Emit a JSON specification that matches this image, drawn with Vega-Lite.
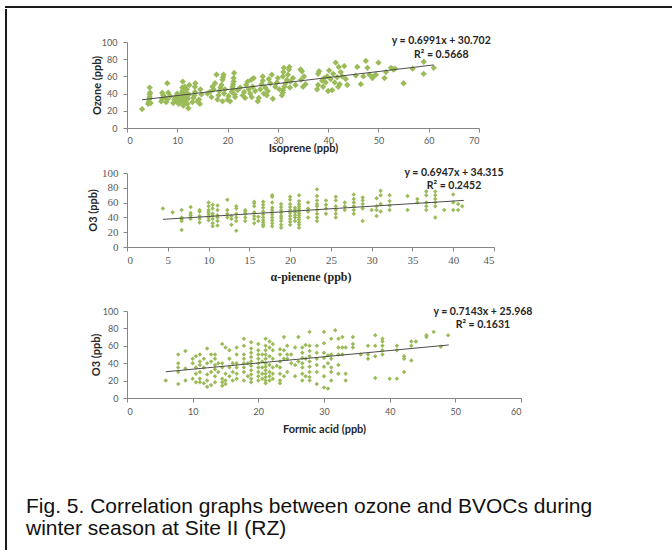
{
"$schema": "https://vega.github.io/schema/vega-lite/v6.json",
"padding": {"left": 5, "top": 6, "right": 0, "bottom": 0},
"background": "white",
"config": {
  "view": {"stroke": null},
  "axis": {"grid": false, "domainColor": "#868686", "tickColor": "#868686", "labelColor": "#595959", "titleColor": "#262626", "tickSize": 4, "labelFont": "Lato", "titleFont": "Lato", "labelFontSize": 9, "titleFontSize": 11, "titleFontWeight": "bold"}
},
"datasets": {
"p1": [
{"x":3.0,"y":22},{"x":4.2,"y":28},{"x":4.3,"y":30},{"x":4.4,"y":33},{"x":4.5,"y":36},{"x":4.5,"y":39},{"x":4.6,"y":41},{"x":4.5,"y":47},{"x":4.7,"y":29},
{"x":6.8,"y":31},{"x":7.0,"y":34},{"x":7.2,"y":38},{"x":7.0,"y":41},{"x":7.5,"y":36},{"x":7.8,"y":30},{"x":8.0,"y":33},{"x":8.2,"y":41},{"x":8.0,"y":52},{"x":8.6,"y":37},
{"x":9.2,"y":29},{"x":9.4,"y":33},{"x":9.6,"y":36},{"x":9.8,"y":31},{"x":10.0,"y":40},{"x":10.2,"y":35},{"x":10.3,"y":28},
{"x":10.5,"y":30},{"x":10.6,"y":32},{"x":10.7,"y":34},{"x":10.8,"y":37},{"x":10.9,"y":40},{"x":11.0,"y":43},{"x":11.0,"y":47},{"x":11.1,"y":54},{"x":11.2,"y":26},{"x":11.3,"y":29},{"x":11.4,"y":31},{"x":11.5,"y":33},{"x":11.6,"y":36},{"x":11.7,"y":38},{"x":11.8,"y":41},{"x":11.9,"y":45},{"x":12.0,"y":28},{"x":12.1,"y":34},{"x":12.2,"y":23},{"x":12.3,"y":39},{"x":12.4,"y":50},{"x":11.5,"y":48},
{"x":13.0,"y":30},{"x":13.2,"y":35},{"x":13.4,"y":38},{"x":13.5,"y":42},{"x":13.5,"y":48},{"x":13.6,"y":52},{"x":14.0,"y":31},{"x":14.3,"y":33},{"x":14.5,"y":28},{"x":14.6,"y":45},{"x":14.8,"y":39},
{"x":16.0,"y":40},{"x":16.5,"y":42},{"x":16.8,"y":36},{"x":17.0,"y":48},{"x":17.2,"y":45},{"x":17.5,"y":52},{"x":17.8,"y":62},{"x":18.0,"y":33},{"x":18.2,"y":38},{"x":18.4,"y":43},{"x":18.6,"y":47},{"x":18.8,"y":50},{"x":19.0,"y":31},{"x":19.0,"y":56},{"x":19.1,"y":59},{"x":19.2,"y":62},{"x":19.3,"y":40},{"x":19.5,"y":45},
{"x":20.0,"y":33},{"x":20.2,"y":37},{"x":20.5,"y":31},{"x":20.8,"y":42},{"x":21.0,"y":45},{"x":21.0,"y":48},{"x":21.1,"y":51},{"x":21.2,"y":54},{"x":21.2,"y":58},{"x":21.3,"y":64},{"x":21.4,"y":39},{"x":21.5,"y":36},{"x":22.0,"y":44},{"x":22.5,"y":47},
{"x":23.0,"y":38},{"x":23.3,"y":42},{"x":23.5,"y":35},{"x":23.7,"y":50},{"x":24.0,"y":54},{"x":24.2,"y":45},{"x":24.5,"y":40},{"x":24.7,"y":56},{"x":24.8,"y":36},{"x":25.0,"y":48},{"x":25.2,"y":58},{"x":25.5,"y":43},
{"x":26.0,"y":31},{"x":26.2,"y":35},{"x":26.5,"y":45},{"x":26.8,"y":51},{"x":27.0,"y":55},{"x":27.0,"y":60},{"x":27.2,"y":40},{"x":27.5,"y":47},{"x":27.8,"y":38},{"x":28.0,"y":43},{"x":28.2,"y":57},{"x":28.5,"y":52},{"x":28.8,"y":62},{"x":29.0,"y":34},
{"x":29.5,"y":48},{"x":29.8,"y":53},{"x":30.0,"y":58},{"x":30.3,"y":45},{"x":30.8,"y":38},{"x":31.0,"y":41},{"x":31.0,"y":44},{"x":31.0,"y":60},{"x":31.1,"y":65},{"x":31.2,"y":70},{"x":31.3,"y":48},{"x":31.5,"y":52},{"x":31.8,"y":56},{"x":32.0,"y":62},{"x":32.2,"y":68},{"x":32.3,"y":71},{"x":32.4,"y":47},{"x":32.5,"y":54},{"x":33.0,"y":58},{"x":33.5,"y":50},{"x":34.5,"y":68},{"x":34.8,"y":66},{"x":34.6,"y":56},{"x":35.0,"y":48},{"x":35.2,"y":60},{"x":35.5,"y":51},
{"x":37.8,"y":45},{"x":38.0,"y":50},{"x":38.2,"y":66},{"x":38.0,"y":63},{"x":38.8,"y":55},{"x":39.0,"y":48},{"x":39.2,"y":58},{"x":39.5,"y":53},{"x":39.8,"y":60},{"x":40.0,"y":43},{"x":40.2,"y":67},{"x":40.5,"y":57},{"x":40.8,"y":44},{"x":41.0,"y":63},{"x":41.3,"y":53},{"x":41.5,"y":76},{"x":41.8,"y":59},{"x":42.0,"y":48},{"x":42.1,"y":71},{"x":42.3,"y":51},{"x":42.5,"y":65},{"x":42.8,"y":60},{"x":43.2,"y":72},{"x":43.5,"y":57},{"x":43.8,"y":50},
{"x":45.5,"y":61},{"x":45.8,"y":71},{"x":46.5,"y":51},{"x":47.0,"y":60},{"x":47.5,"y":78},{"x":47.8,"y":70},{"x":48.2,"y":62},{"x":48.8,"y":58},{"x":49.0,"y":60},{"x":49.5,"y":62},{"x":50.0,"y":76},{"x":51.2,"y":58},{"x":51.5,"y":65},{"x":52.5,"y":70},{"x":53.0,"y":68},{"x":53.3,"y":69},{"x":55.0,"y":52},{"x":56.8,"y":69},{"x":59.0,"y":63},{"x":59.0,"y":77},{"x":61.0,"y":70}
],
"t1": [{"x":3,"y":32.8},{"x":61,"y":73.35}],
"e1": [{"x":62.5,"y":101,"label":"y = 0.6991x + 30.702"},{"x":62.5,"y":85,"label":"R² = 0.5668"}],
"p2": [
{"x":4.4,"y":52},{"x":5.6,"y":47},
{"x":6.7,"y":23},{"x":6.7,"y":35},{"x":6.7,"y":38},{"x":6.7,"y":40},{"x":6.7,"y":50},
{"x":7.8,"y":38},{"x":7.8,"y":40},{"x":7.8,"y":43},{"x":7.8,"y":46},{"x":7.8,"y":54},
{"x":8.9,"y":33},{"x":8.9,"y":38},{"x":8.9,"y":42},{"x":8.9,"y":48},{"x":8.9,"y":50},
{"x":10,"y":36},{"x":10,"y":40},{"x":10,"y":44},{"x":10,"y":47},{"x":10,"y":50},{"x":10,"y":55},{"x":10,"y":60},
{"x":10.5,"y":28},{"x":10.5,"y":32},{"x":10.5,"y":38},{"x":10.5,"y":42},{"x":10.5,"y":45},{"x":10.5,"y":52},{"x":10.5,"y":57},
{"x":11.1,"y":29},{"x":11.1,"y":35},{"x":11.1,"y":40},{"x":11.1,"y":43},{"x":11.1,"y":50},{"x":11.1,"y":56},
{"x":12.3,"y":40},{"x":12.3,"y":45},{"x":12.3,"y":50},{"x":12.3,"y":64},
{"x":12.8,"y":30},{"x":12.8,"y":38},{"x":12.8,"y":42},
{"x":13.4,"y":22},{"x":13.4,"y":35},{"x":13.4,"y":40},{"x":13.4,"y":45},{"x":13.4,"y":52},{"x":13.4,"y":55},
{"x":14.5,"y":35},{"x":14.5,"y":40},{"x":14.5,"y":45},{"x":14.5,"y":48},{"x":14.5,"y":50},
{"x":15.6,"y":32},{"x":15.6,"y":38},{"x":15.6,"y":42},{"x":15.6,"y":47},{"x":15.6,"y":55},{"x":15.6,"y":59},{"x":15.6,"y":61},
{"x":16.1,"y":35},{"x":16.1,"y":41},
{"x":16.7,"y":28},{"x":16.7,"y":30},{"x":16.7,"y":33},{"x":16.7,"y":36},{"x":16.7,"y":40},{"x":16.7,"y":44},{"x":16.7,"y":48},{"x":16.7,"y":53},{"x":16.7,"y":57},{"x":16.7,"y":61},
{"x":17.8,"y":28},{"x":17.8,"y":32},{"x":17.8,"y":36},{"x":17.8,"y":40},{"x":17.8,"y":44},{"x":17.8,"y":47},{"x":17.8,"y":50},{"x":17.8,"y":53},{"x":17.8,"y":60},{"x":17.8,"y":68},{"x":17.8,"y":70},
{"x":18.9,"y":26},{"x":18.9,"y":30},{"x":18.9,"y":35},{"x":18.9,"y":39},{"x":18.9,"y":42},{"x":18.9,"y":46},{"x":18.9,"y":50},{"x":18.9,"y":54},{"x":18.9,"y":58},
{"x":20,"y":30},{"x":20,"y":34},{"x":20,"y":38},{"x":20,"y":42},{"x":20,"y":46},{"x":20,"y":50},{"x":20,"y":54},{"x":20,"y":58},{"x":20,"y":64},{"x":20,"y":68},
{"x":20.6,"y":35},{"x":20.6,"y":40},{"x":20.6,"y":43},{"x":20.6,"y":47},{"x":20.6,"y":50},{"x":20.6,"y":53},
{"x":21.1,"y":26},{"x":21.1,"y":30},{"x":21.1,"y":33},{"x":21.1,"y":37},{"x":21.1,"y":40},{"x":21.1,"y":43},{"x":21.1,"y":46},{"x":21.1,"y":49},{"x":21.1,"y":52},{"x":21.1,"y":55},{"x":21.1,"y":58},{"x":21.1,"y":62},{"x":21.1,"y":70},
{"x":22.2,"y":40},{"x":22.2,"y":48},{"x":22.2,"y":52},{"x":22.2,"y":60},
{"x":23.3,"y":35},{"x":23.3,"y":40},{"x":23.3,"y":45},{"x":23.3,"y":50},{"x":23.3,"y":55},{"x":23.3,"y":58},{"x":23.3,"y":63},{"x":23.3,"y":69},{"x":23.3,"y":78},
{"x":24.4,"y":45},{"x":24.4,"y":52},{"x":24.4,"y":57},{"x":24.4,"y":63},
{"x":25.6,"y":40},{"x":25.6,"y":45},{"x":25.6,"y":50},{"x":25.6,"y":55},{"x":25.6,"y":63},{"x":25.6,"y":68},
{"x":26.7,"y":50},{"x":26.7,"y":55},{"x":26.7,"y":60},
{"x":27.8,"y":45},{"x":27.8,"y":50},{"x":27.8,"y":55},{"x":27.8,"y":60},{"x":27.8,"y":65},{"x":27.8,"y":71},
{"x":28.9,"y":35},{"x":28.9,"y":52},{"x":28.9,"y":58},{"x":28.9,"y":63},{"x":28.9,"y":67},
{"x":30,"y":50},
{"x":30.6,"y":42},{"x":30.6,"y":50},{"x":30.6,"y":55},{"x":30.6,"y":66},
{"x":31.1,"y":48},{"x":31.1,"y":58},{"x":31.1,"y":70},{"x":31.1,"y":76},
{"x":32.2,"y":50},{"x":32.2,"y":56},{"x":32.2,"y":62},{"x":32.2,"y":70},
{"x":34.4,"y":50},{"x":34.4,"y":69},
{"x":35.6,"y":60},{"x":35.6,"y":65},
{"x":36.7,"y":50},{"x":36.7,"y":55},{"x":36.7,"y":60},{"x":36.7,"y":70},{"x":36.7,"y":75},
{"x":37.8,"y":40},{"x":37.8,"y":55},{"x":37.8,"y":60},{"x":37.8,"y":65},{"x":37.8,"y":70},{"x":37.8,"y":75},
{"x":38.9,"y":50},
{"x":40,"y":50},{"x":40,"y":60},{"x":40,"y":71},
{"x":40.6,"y":50},{"x":40.6,"y":58},
{"x":41.1,"y":55}
],
"t2": [{"x":4.4,"y":37.37},{"x":41.3,"y":63.0}],
"e2": [{"x":40.1,"y":100,"label":"y = 0.6947x + 34.315"},{"x":40.1,"y":82.4,"label":"R² = 0.2452"}],
"p3": [
{"x":5.9,"y":20},
{"x":7.8,"y":16},{"x":7.8,"y":30},{"x":7.8,"y":35},{"x":7.8,"y":40},{"x":7.8,"y":50},
{"x":8.9,"y":20},{"x":8.9,"y":34},{"x":8.9,"y":54},
{"x":10,"y":22},{"x":10,"y":40},{"x":10,"y":45},
{"x":10.5,"y":18},{"x":10.5,"y":28},{"x":10.5,"y":35},{"x":10.5,"y":48},
{"x":11.1,"y":18},{"x":11.1,"y":22},{"x":11.1,"y":30},{"x":11.1,"y":38},{"x":11.1,"y":42},{"x":11.1,"y":50},
{"x":11.7,"y":17},{"x":11.7,"y":35},{"x":11.7,"y":45},
{"x":12.2,"y":13},{"x":12.2,"y":20},{"x":12.2,"y":27},{"x":12.2,"y":40},{"x":12.2,"y":57},
{"x":12.8,"y":15},{"x":12.8,"y":30},{"x":12.8,"y":42},{"x":12.8,"y":50},
{"x":13.4,"y":18},{"x":13.4,"y":25},{"x":13.4,"y":33},{"x":13.4,"y":38},{"x":13.4,"y":45},{"x":13.4,"y":50},
{"x":13.9,"y":30},{"x":13.9,"y":40},
{"x":14.5,"y":14},{"x":14.5,"y":18},{"x":14.5,"y":22},{"x":14.5,"y":35},{"x":14.5,"y":40},{"x":14.5,"y":62},
{"x":15,"y":16},{"x":15,"y":20},{"x":15,"y":28},{"x":15,"y":58},
{"x":15.6,"y":25},{"x":15.6,"y":35},{"x":15.6,"y":45},{"x":15.6,"y":55},
{"x":16.1,"y":20},{"x":16.1,"y":30},{"x":16.1,"y":40},
{"x":16.7,"y":22},{"x":16.7,"y":28},{"x":16.7,"y":35},{"x":16.7,"y":40},{"x":16.7,"y":50},{"x":16.7,"y":58},
{"x":17.8,"y":20},{"x":17.8,"y":30},{"x":17.8,"y":35},{"x":17.8,"y":40},{"x":17.8,"y":45},{"x":17.8,"y":50},{"x":17.8,"y":60},{"x":17.8,"y":68},
{"x":18.4,"y":25},{"x":18.4,"y":40},
{"x":18.9,"y":18},{"x":18.9,"y":22},{"x":18.9,"y":27},{"x":18.9,"y":32},{"x":18.9,"y":37},{"x":18.9,"y":42},{"x":18.9,"y":47},{"x":18.9,"y":52},{"x":18.9,"y":57},{"x":18.9,"y":64},
{"x":20,"y":20},{"x":20,"y":25},{"x":20,"y":30},{"x":20,"y":35},{"x":20,"y":40},{"x":20,"y":45},{"x":20,"y":50},{"x":20,"y":55},{"x":20,"y":62},
{"x":20.6,"y":22},{"x":20.6,"y":28},{"x":20.6,"y":35},{"x":20.6,"y":42},{"x":20.6,"y":50},
{"x":21.1,"y":17},{"x":21.1,"y":20},{"x":21.1,"y":24},{"x":21.1,"y":28},{"x":21.1,"y":32},{"x":21.1,"y":36},{"x":21.1,"y":40},{"x":21.1,"y":45},{"x":21.1,"y":50},{"x":21.1,"y":55},{"x":21.1,"y":60},{"x":21.1,"y":68},
{"x":21.7,"y":20},{"x":21.7,"y":25},{"x":21.7,"y":30},{"x":21.7,"y":38},{"x":21.7,"y":48},{"x":21.7,"y":58},{"x":21.7,"y":65},
{"x":22.2,"y":22},{"x":22.2,"y":28},{"x":22.2,"y":35},{"x":22.2,"y":45},{"x":22.2,"y":55},{"x":22.2,"y":62},
{"x":22.8,"y":37},
{"x":23.3,"y":17},{"x":23.3,"y":20},{"x":23.3,"y":28},{"x":23.3,"y":35},{"x":23.3,"y":42},{"x":23.3,"y":50},{"x":23.3,"y":56},
{"x":23.9,"y":25},{"x":23.9,"y":45},{"x":23.9,"y":55},{"x":23.9,"y":70},
{"x":24.4,"y":30},{"x":24.4,"y":45},{"x":24.4,"y":50},{"x":24.4,"y":60},
{"x":25,"y":40},{"x":25,"y":50},
{"x":25.6,"y":25},{"x":25.6,"y":38},{"x":25.6,"y":58},
{"x":26.1,"y":42},{"x":26.1,"y":70},
{"x":26.7,"y":20},{"x":26.7,"y":28},{"x":26.7,"y":35},{"x":26.7,"y":40},{"x":26.7,"y":46},{"x":26.7,"y":52},{"x":26.7,"y":58},
{"x":27.2,"y":25},{"x":27.2,"y":45},{"x":27.2,"y":61},
{"x":27.8,"y":20},{"x":27.8,"y":24},{"x":27.8,"y":30},{"x":27.8,"y":36},{"x":27.8,"y":42},{"x":27.8,"y":48},{"x":27.8,"y":54},{"x":27.8,"y":60},{"x":27.8,"y":76},
{"x":28.9,"y":16},{"x":28.9,"y":30},{"x":28.9,"y":38},{"x":28.9,"y":45},{"x":28.9,"y":52},{"x":28.9,"y":60},
{"x":30,"y":12},{"x":30,"y":25},{"x":30,"y":36},{"x":30,"y":46},{"x":30,"y":52},{"x":30,"y":63},{"x":30,"y":76},
{"x":30.6,"y":11},{"x":30.6,"y":40},{"x":30.6,"y":49},
{"x":31.1,"y":20},{"x":31.1,"y":30},{"x":31.1,"y":35},{"x":31.1,"y":45},{"x":31.1,"y":50},{"x":31.1,"y":68},
{"x":31.7,"y":78},
{"x":32.2,"y":28},{"x":32.2,"y":38},{"x":32.2,"y":50},{"x":32.2,"y":58},{"x":32.2,"y":68},
{"x":32.8,"y":50},{"x":32.8,"y":58},{"x":32.8,"y":70},
{"x":33.3,"y":20},{"x":33.3,"y":28},{"x":33.3,"y":58},
{"x":34.4,"y":58},{"x":34.4,"y":62},{"x":34.4,"y":70},
{"x":35.6,"y":50},
{"x":36.7,"y":45},{"x":36.7,"y":50},{"x":36.7,"y":60},
{"x":37.8,"y":23},{"x":37.8,"y":48},{"x":37.8,"y":60},{"x":37.8,"y":72},
{"x":38.9,"y":50},{"x":38.9,"y":55},{"x":38.9,"y":60},{"x":38.9,"y":65},{"x":38.9,"y":68},
{"x":40,"y":22},
{"x":41.1,"y":22},{"x":41.1,"y":55},{"x":41.1,"y":60},
{"x":42.2,"y":30},{"x":42.2,"y":45},{"x":42.2,"y":48},
{"x":43.3,"y":43},{"x":43.3,"y":60},{"x":43.3,"y":65},
{"x":44,"y":65},
{"x":45.6,"y":70},{"x":45.6,"y":72},
{"x":46.7,"y":76},
{"x":47.8,"y":59},
{"x":48.9,"y":72}
],
"t3": [{"x":5.9,"y":30.18},{"x":49,"y":60.97}],
"e3": [{"x":54.2,"y":99.2,"label":"y = 0.7143x + 25.968"},{"x":54.2,"y":83.9,"label":"R² = 0.1631"}]
},
"vconcat": [
  {"width": 665, "height": 0.01, "view": {"stroke": "#1a1a1a", "strokeWidth": 2}, "data": {"values": []}, "mark": "rule", "encoding": {}},
  {"hconcat": [
    {"width": 0.01, "height": 540, "view": {"stroke": "#1a1a1a", "strokeWidth": 2}, "data": {"values": []}, "mark": "rule", "encoding": {}},
    {"vconcat": [
      {"width": 1, "height": 26, "data": {"values": []}, "mark": "rule", "encoding": {}},
      {"width": 352, "height": 86,
       "encoding": {
         "x": {"field": "x", "type": "quantitative", "scale": {"domain": [0, 70], "nice": false, "zero": false}, "axis": {"title": "Isoprene (ppb)", "values": [0,10,20,30,40,50,60,70], "labelPadding": 4, "titlePadding": -3}},
         "y": {"field": "y", "type": "quantitative", "scale": {"domain": [0, 100], "nice": false}, "axis": {"title": "Ozone (ppb)", "values": [0,20,40,60,80,100], "labelPadding": 6, "titlePadding": -1}}
       },
       "layer": [
         {"data": {"name": "p1"}, "mark": {"type": "point", "shape": "diamond", "filled": true, "color": "#9BBB59", "size": 40, "opacity": 1}},
         {"data": {"name": "t1"}, "mark": {"type": "line", "color": "#4d4d4d", "strokeWidth": 1}},
         {"data": {"name": "e1"}, "mark": {"type": "text", "font": "Lato", "fontWeight": "bold", "fontSize": 10.5, "color": "#262626"}, "encoding": {"text": {"field": "label"}}}
       ]},
      {"width": 1, "height": 14, "data": {"values": []}, "mark": "rule", "encoding": {}},
      {"width": 367, "height": 74,
       "encoding": {
         "x": {"field": "x", "type": "quantitative", "scale": {"domain": [0, 45], "nice": false, "zero": false}, "axis": {"title": "α-pienene (ppb)", "values": [0,5,10,15,20,25,30,35,40,45], "labelFont": "Liberation Serif", "labelFontSize": 11, "titleFont": "Liberation Serif", "titleFontSize": 12, "labelPadding": 3, "titlePadding": 6}},
         "y": {"field": "y", "type": "quantitative", "scale": {"domain": [0, 100], "nice": false}, "axis": {"title": "O3 (ppb)", "values": [0,20,40,60,80,100], "labelFont": "Liberation Serif", "labelFontSize": 11, "labelPadding": 5, "titlePadding": 3}}
       },
       "layer": [
         {"data": {"name": "p2"}, "mark": {"type": "point", "shape": "diamond", "filled": true, "color": "#9BBB59", "size": 20, "opacity": 1}},
         {"data": {"name": "t2"}, "mark": {"type": "line", "color": "#4d4d4d", "strokeWidth": 1}},
         {"data": {"name": "e2"}, "mark": {"type": "text", "font": "Lato", "fontWeight": "bold", "fontSize": 10.5, "color": "#262626"}, "encoding": {"text": {"field": "label"}}}
       ]},
      {"width": 1, "height": 24, "data": {"values": []}, "mark": "rule", "encoding": {}},
      {"width": 394, "height": 87,
       "title": {"text": ["Fig. 5. Correlation graphs between ozone and BVOCs during", "winter season at Site II (RZ)"], "orient": "bottom", "anchor": "start", "frame": "group", "dx": -101, "offset": 62, "font": "Liberation Sans", "fontSize": 21, "fontWeight": "normal", "color": "#111111", "lineHeight": 22},
       "encoding": {
         "x": {"field": "x", "type": "quantitative", "scale": {"domain": [0, 60], "nice": false, "zero": false}, "axis": {"title": "Formic acid (ppb)", "values": [0,10,20,30,40,50,60], "labelPadding": 5, "titlePadding": 7}},
         "y": {"field": "y", "type": "quantitative", "scale": {"domain": [0, 100], "nice": false}, "axis": {"title": "O3 (ppb)", "values": [0,20,40,60,80,100], "labelPadding": 5, "titlePadding": 1}}
       },
       "layer": [
         {"data": {"name": "p3"}, "mark": {"type": "point", "shape": "diamond", "filled": true, "color": "#9BBB59", "size": 20, "opacity": 1}},
         {"data": {"name": "t3"}, "mark": {"type": "line", "color": "#4d4d4d", "strokeWidth": 1}},
         {"data": {"name": "e3"}, "mark": {"type": "text", "font": "Lato", "fontWeight": "bold", "fontSize": 10.5, "color": "#262626"}, "encoding": {"text": {"field": "label"}}}
       ]}
    ], "spacing": 0}
  ], "spacing": 18}
],
"spacing": 0
}
